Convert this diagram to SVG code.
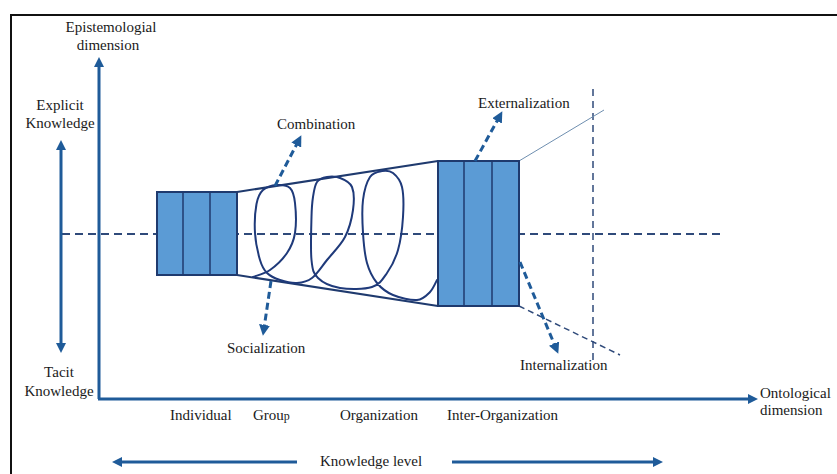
<svg xmlns="http://www.w3.org/2000/svg" width="837" height="474" viewBox="0 0 837 474">
<defs>
<marker id="ah" viewBox="0 0 10 10" refX="2" refY="5" markerWidth="10" markerHeight="10" markerUnits="userSpaceOnUse" orient="auto-start-reverse"><path d="M0,0 L10,5 L0,10 z" fill="#1f5b99"/></marker>
<marker id="ah2" viewBox="0 0 10 10" refX="2" refY="5" markerWidth="11" markerHeight="11" markerUnits="userSpaceOnUse" orient="auto"><path d="M0,0 L10,5 L0,10 z" fill="#1f5b99"/></marker>
</defs>
<style>
.t{font-family:"Liberation Serif","Times New Roman",serif;font-size:15px;fill:#1a1a1a}
.ax{stroke:#1f5b99;stroke-width:3;fill:none}
.blk{fill:#5b9bd5;stroke:#1f3a6e;stroke-width:2}
.div{stroke:#1f3a6e;stroke-width:1.5}
.trap{stroke:#1f3a6e;stroke-width:2;fill:none}
.dash{stroke:#2f4a7a;stroke-width:2;stroke-dasharray:8 5;fill:none}
.darr{stroke:#1f5b99;stroke-width:3;stroke-dasharray:7 4;fill:none}
</style>
<rect id="frame" x="11" y="15" width="840" height="470" fill="none" stroke="#111" stroke-width="2"/>

<g id="guides">
<line class="dash" x1="62" y1="234" x2="722" y2="234"/>
<line x1="593" y1="89" x2="593" y2="364" stroke="#2f4a7a" stroke-width="1.5" stroke-dasharray="7 5"/>
<line x1="519" y1="161" x2="604" y2="110" stroke="#6f8fb0" stroke-width="1"/>
<line x1="519" y1="306" x2="620" y2="355" stroke="#2f4a7a" stroke-width="1.5" stroke-dasharray="6 4"/>
</g>

<g id="funnel">
<line class="trap" x1="237" y1="192" x2="438" y2="161"/>
<line class="trap" x1="237" y1="275" x2="438" y2="306"/>
</g>

<g id="coil">
<path fill="none" stroke="#1f3a7a" stroke-width="2" stroke-linecap="round" stroke-linejoin="round" d="M253,277 C255.83,275.83 264.33,274 270,270 C275.67,266 282.83,259.17 287,253 C291.17,246.83 293.67,241.33 295,233 C296.33,224.67 295.83,210.5 295,203 C294.17,195.5 293,191 290,188 C287,185 281.5,184.67 277,185 C272.5,185.33 266.42,186.83 263,190 C259.58,193.17 257.83,196.83 256.5,204 C255.17,211.17 254.42,223.67 255,233 C255.58,242.33 258,253.33 260,260 C262,266.67 263.67,269.67 267,273 C270.33,276.33 275,278.33 280,280 C285,281.67 291.67,283.33 297,283 C302.33,282.67 307,281.83 312,278 C317,274.17 321.5,266.83 327,260 C332.5,253.17 340.67,245.33 345,237 C349.33,228.67 351.83,218.33 353,210 C354.17,201.67 354.17,192.33 352,187 C349.83,181.67 344.17,179.67 340,178 C335.83,176.33 330.83,176.33 327,177 C323.17,177.67 319.33,178.67 317,182 C314.67,185.33 313.92,191.17 313,197 C312.08,202.83 311.75,206.5 311.5,217 C311.25,227.5 310.42,249.83 311.5,260 C312.58,270.17 313.25,273.33 318,278 C322.75,282.67 331,286.5 340,288 C349,289.5 364.17,289.5 372,287 C379.83,284.5 382.67,279.17 387,273 C391.33,266.83 395.33,259.33 398,250 C400.67,240.67 402.33,227.5 403,217 C403.67,206.5 403.67,194.33 402,187 C400.33,179.67 396.33,175.67 393,173 C389.67,170.33 385.83,170.33 382,171 C378.17,171.67 373.17,172.17 370,177 C366.83,181.83 364.17,190.67 363,200 C361.83,209.33 362.33,222.5 363,233 C363.67,243.5 364.67,254.67 367,263 C369.33,271.33 372.67,277.67 377,283 C381.33,288.33 386.33,292.17 393,295 C399.67,297.83 410.83,300.5 417,300 C423.17,299.5 426.67,295.33 430,292 C433.33,288.67 435.83,282 437,280"/>
</g>

<g id="individual-block">
<rect class="blk" x="157" y="192" width="80" height="83"/>
<line class="div" x1="183" y1="192" x2="183" y2="275"/>
<line class="div" x1="210" y1="192" x2="210" y2="275"/>
</g>

<g id="interorg-block">
<rect class="blk" x="438" y="161" width="81" height="145"/>
<line class="div" x1="464" y1="161" x2="464" y2="306"/>
<line class="div" x1="492" y1="161" x2="492" y2="306"/>
</g>

<g id="connectors">
<line class="ax" x1="99" y1="399" x2="99" y2="65" marker-end="url(#ah)"/>
<line class="ax" x1="98" y1="399" x2="750" y2="399" marker-end="url(#ah)"/>
<line class="ax" x1="61" y1="148" x2="61" y2="345" marker-start="url(#ah)" marker-end="url(#ah)"/>
<line class="ax" x1="297" y1="462" x2="120" y2="462" marker-end="url(#ah)"/>
<line class="ax" x1="452" y1="462" x2="655" y2="462" marker-end="url(#ah)"/>
<line class="darr" x1="275" y1="186" x2="297.3" y2="143.1" marker-end="url(#ah2)"/>
<line class="darr" x1="475" y1="161" x2="498.1" y2="119" marker-end="url(#ah2)"/>
<line class="darr" x1="271" y1="281" x2="264.2" y2="327.1" marker-end="url(#ah2)"/>
<line class="darr" x1="520" y1="262" x2="554.9" y2="345.6" marker-end="url(#ah2)"/>
</g>

<g id="labels">
<text class="t" x="111" y="32" text-anchor="middle">Epistemologial</text>
<text class="t" x="108" y="50" text-anchor="middle">dimension</text>
<text class="t" x="60" y="110" text-anchor="middle">Explicit</text>
<text class="t" x="60" y="128" text-anchor="middle">Knowledge</text>
<text class="t" x="59" y="377" text-anchor="middle">Tacit</text>
<text class="t" x="59" y="396" text-anchor="middle">Knowledge</text>
<text class="t" x="277" y="129">Combination</text>
<text class="t" x="478" y="108">Externalization</text>
<text class="t" x="227" y="353">Socialization</text>
<text class="t" x="520" y="370">Internalization</text>
<text class="t" x="170" y="420">Individual</text>
<text class="t" x="253" y="420">Grou<tspan font-size="12">p</tspan></text>
<text class="t" x="340" y="420">Organization</text>
<text class="t" x="447" y="420">Inter-Organization</text>
<text class="t" x="760" y="398">Ontological</text>
<text class="t" x="760" y="415">dimension</text>
<text class="t" x="320" y="466">Knowledge level</text>
</g>
</svg>
